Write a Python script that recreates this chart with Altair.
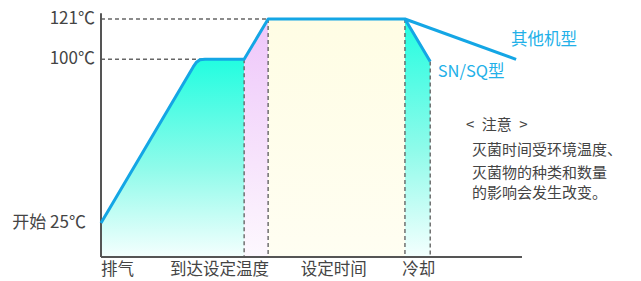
import altair as alt
import pandas as pd

FONT = "Noto Sans CJK SC"

# ---- data (time in arbitrary units, temperature in ℃) ----
main_t = [0, 21.9, 22.6, 23.5, 24.7, 34.0, 39.7, 72.2, 78.2]
main_temp = [25, 96.5, 98.5, 99.8, 100, 100, 121, 121, 99]
other_t = [72.2, 98.6]
other_temp = [121, 100]

phase_t = [0, 34.0, 39.7, 72.2, 78.2]          # phase boundaries
ylabel_temp = [121, 100]
ylabel_text = ["121℃", "100℃"]
start_label = ["开始 25℃"]

xlab_left = ["排气"]
xlab_right = ["到达设定温度"]
xlab_center = ["设定时间", "冷却"]
xlab_center_t = [55.3, 75.5]

series_labels = ["其他机型", "SN/SQ型"]
series_label_t = [97.4, 80.0]
series_label_temp = [110, 94.2]

note_lines = ["<\u2002注意\u2002>", "灭菌时间受环境温度、", "灭菌物的种类和数量", "的影响会发生改变。"]
note_t = [86.7, 88.1, 88.1, 88.1]
note_temp = [69.9, 58.4, 47.8, 38.7]

W, H = 625, 273
xs = alt.Scale(domain=[-22.09, 126.37], nice=False, zero=False)
ys = alt.Scale(domain=[0, 25, 100, 121], range=[249, 215, 51.3, 11], nice=False, zero=False)


def X(f="t"):
    return alt.X(f"{f}:Q", scale=xs, axis=None)


def Y(f="temp"):
    return alt.Y(f"{f}:Q", scale=ys, axis=None)


def grad(stops):
    return alt.Gradient(
        gradient="linear", x1=0, y1=0, x2=0, y2=1,
        stops=[alt.GradientStop(color=c, offset=o) for c, o in stops],
    )


main = pd.DataFrame({"t": main_t, "temp": main_temp})
other = pd.DataFrame({"t": other_t, "temp": other_temp})

teal1 = main.iloc[0:6].assign(base=0)
purple = main.iloc[5:7].assign(base=0)
yellow = main.iloc[6:8].assign(base=0)
teal2 = main.iloc[7:9].assign(base=0)

teal_grad = grad([("#22fde0", 0), ("#8ffbea", 0.55), ("#f4fffe", 1)])
area1 = alt.Chart(teal1).mark_area(color=teal_grad).encode(x=X(), y=Y(), y2="base:Q")
area2 = alt.Chart(purple).mark_area(color=grad([("#eec6fa", 0), ("#f7e4fc", 0.6), ("#fdf8fe", 1)])).encode(x=X(), y=Y(), y2="base:Q")
area3 = alt.Chart(yellow).mark_area(color=grad([("#fffde4", 0), ("#fffef2", 1)])).encode(x=X(), y=Y(), y2="base:Q")
area4 = alt.Chart(teal2).mark_area(color=teal_grad).encode(x=X(), y=Y(), y2="base:Q")

# dashed guide lines
guides = pd.DataFrame({
    "t": [0, 0, phase_t[1], phase_t[2], phase_t[3], phase_t[4]],
    "temp": [121, 100, 100, 121, 121, 99],
    "t2": [phase_t[2], phase_t[1], phase_t[1], phase_t[2], phase_t[3], phase_t[4]],
    "temp2": [121, 100, 0, 0, 0, 0],
})
dashed = alt.Chart(guides).mark_rule(strokeDash=[4, 3], color="#666666", strokeWidth=1.4).encode(
    x=X(), y=Y(), x2="t2:Q", y2="temp2:Q")

axes_df = pd.DataFrame({"t": [0, 0], "temp": [0, 0], "t2": [100, 0], "temp2": [0, 124]})
axes = alt.Chart(axes_df).mark_rule(color="#555555", strokeWidth=2).encode(
    x=X(), y=Y(), x2="t2:Q", y2="temp2:Q")

LINE = "#14a6e5"
line_main = alt.Chart(main).mark_line(color=LINE, strokeWidth=3, strokeJoin="round").encode(x=X(), y=Y())
line_other = alt.Chart(other).mark_line(color=LINE, strokeWidth=3).encode(x=X(), y=Y())

TXT = "#444444"
ylab = alt.Chart(pd.DataFrame({"t": [0, 0], "temp": ylabel_temp, "lab": ylabel_text})).mark_text(
    align="right", baseline="middle", dx=-6, font=FONT, fontSize=17, color=TXT).encode(x=X(), y=Y(), text="lab:N")
ystart = alt.Chart(pd.DataFrame({"t": [0], "temp": [25], "lab": start_label})).mark_text(
    align="right", baseline="middle", dx=-15, font=FONT, fontSize=17, color=TXT).encode(x=X(), y=Y(), text="lab:N")

xl1 = alt.Chart(pd.DataFrame({"t": [0], "temp": [0], "lab": xlab_left})).mark_text(
    align="left", baseline="middle", dy=13, font=FONT, fontSize=16.5, color=TXT).encode(x=X(), y=Y(), text="lab:N")
xl2 = alt.Chart(pd.DataFrame({"t": [39.9], "temp": [0], "lab": xlab_right})).mark_text(
    align="right", baseline="middle", dy=13, font=FONT, fontSize=16.5, color=TXT).encode(x=X(), y=Y(), text="lab:N")
xl3 = alt.Chart(pd.DataFrame({"t": xlab_center_t, "temp": [0, 0], "lab": xlab_center})).mark_text(
    align="center", baseline="middle", dy=13, font=FONT, fontSize=16.5, color=TXT).encode(x=X(), y=Y(), text="lab:N")

slab = alt.Chart(pd.DataFrame({"t": series_label_t, "temp": series_label_temp, "lab": series_labels})).mark_text(
    align="left", baseline="middle", font=FONT, fontSize=16.5, color="#22b0e8").encode(x=X(), y=Y(), text="lab:N")

note = alt.Chart(pd.DataFrame({"t": note_t, "temp": note_temp, "lab": note_lines})).mark_text(
    align="left", baseline="middle", font=FONT, fontSize=15, color=TXT).encode(x=X(), y=Y(), text="lab:N")

chart = alt.layer(
    area1, area2, area3, area4, dashed, axes, line_main, line_other,
    ylab, ystart, xl1, xl2, xl3, slab, note,
).properties(
    width=W, height=H, padding=0, autosize=alt.AutoSizeParams(type="none"),
    background="white",
).configure_view(stroke=None)

chart.save("out.html", embed_options={"renderer": "svg", "actions": False})
